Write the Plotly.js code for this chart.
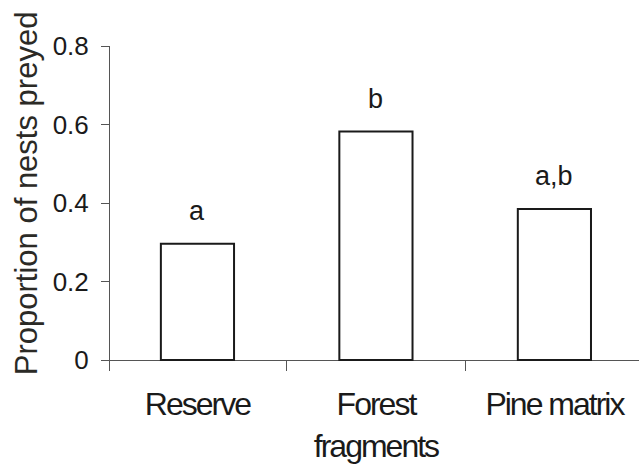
<!DOCTYPE html>
<html>
<head>
<meta charset="utf-8">
<script src="https://cdn.plot.ly/plotly-3.0.1.min.js"></script>
<style>
  html, body { margin: 0; padding: 0; background: #fff; }
  #chart { width: 639px; height: 468px; }
  /* tight, condensed look for the habitat names */
  #chart .xtick text { letter-spacing: -2px; }
</style>
</head>
<body>
<div id="chart"></div>
<script>
// Habitat categories and the share of nests taken by predators
const categories = ['Reserve', 'Forest<br>fragments', 'Pine matrix'];
const proportionPreyed = [0.296, 0.582, 0.385];
// Letters from the pairwise comparisons
const groupLetters = ['a', 'b', 'a,b'];
const yTickValues = [0, 0.2, 0.4, 0.6, 0.8];
const yTickLabels = ['0', '0.2', '0.4', '0.6', '0.8'];
const categoryBoundaries = [0.5, 1.5];

const positions = categories.map((_, i) => i);

const sans = 'Liberation Sans, Arial, sans-serif';

const trace = {
  type: 'bar',
  x: positions,
  y: proportionPreyed,
  width: 0.41,
  marker: { color: '#ffffff', line: { color: '#1a1a1a', width: 2 } },
  hoverinfo: 'skip'
};

const letterNotes = positions.map((p, i) => ({
  x: p, y: proportionPreyed[i], xref: 'x', yref: 'y',
  text: groupLetters[i], showarrow: false,
  xanchor: 'center', yanchor: 'bottom', yshift: 16,
  font: { family: sans, size: 27, color: '#1a1a1a' }
}));

const layout = {
  width: 639, height: 468,
  margin: { l: 110, r: 0, t: 46, b: 97, pad: 0 },
  paper_bgcolor: '#ffffff', plot_bgcolor: '#ffffff',
  showlegend: false,
  xaxis: {
    range: [-0.49, 2.474],
    tickmode: 'array', tickvals: positions, ticktext: categories,
    ticks: '', showline: false, showgrid: false, zeroline: false,
    tickfont: { family: sans, size: 32, color: '#1a1a1a' },
    ticklabelstandoff: 11,
    minor: { tickmode: 'array', tickvals: categoryBoundaries, ticks: 'inside',
             ticklen: 11, tickwidth: 1, tickcolor: '#555', showgrid: false },
    fixedrange: true
  },
  yaxis: {
    range: [-0.028, 0.8],
    tickmode: 'array', tickvals: yTickValues, ticktext: yTickLabels,
    ticks: 'outside', ticklen: 8, tickwidth: 1, tickcolor: '#555',
    showline: true, linecolor: '#555', linewidth: 1,
    showgrid: false,
    zeroline: true, zerolinecolor: '#555', zerolinewidth: 1,
    tickfont: { family: sans, size: 26, color: '#1a1a1a' },
    ticklabelstandoff: 7,
    fixedrange: true
  },
  annotations: letterNotes.concat([{
    text: 'Proportion of nests preyed',
    xref: 'paper', yref: 'paper', x: 0, y: 0.547,
    xanchor: 'center', yanchor: 'middle', xshift: -84,
    textangle: -90, showarrow: false,
    font: { family: sans, size: 31, color: '#2b2a26' }
  }])
};

Plotly.newPlot('chart', [trace], layout, { displayModeBar: false, staticPlot: true });
</script>
</body>
</html>
